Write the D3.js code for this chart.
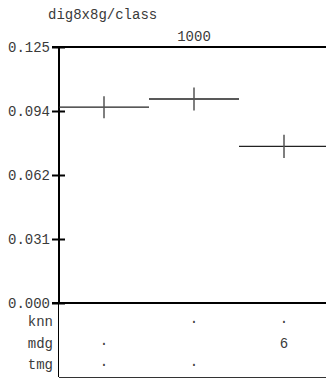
<!DOCTYPE html>
<html><head><meta charset="utf-8">
<script src="https://cdn.jsdelivr.net/npm/d3@7"></script>
<style>
html,body{margin:0;padding:0;background:#fff;}
svg{display:block;font-family:"Courier New","Liberation Mono",monospace;}
</style></head>
<body>
<svg id="chart" width="326" height="379"></svg>
<script>
const title = "dig8x8g/class";
const groupLabel = "1000";
const columns = ["c1", "c2", "c3"];
const means = [0.0956, 0.0996, 0.0765];
const errors = [0.0054, 0.0056, 0.0057];
const yTicks = [0, 0.03125, 0.0625, 0.09375, 0.125];
const yTickLabels = ["0.000", "0.031", "0.062", "0.094", "0.125"];
const rowLabels = ["knn", "mdg", "tmg"];
const knnCells = ["", "·", "·"];
const mdgCells = ["·", "", "6"];
const tmgCells = ["·", "·", ""];

(function () {
const svg = d3.select("#chart");
const textColor = "#3a3a3a";
const pLeft = 59, pRight = 329, pTop = 47, pBottom = 303, frameBottom = 377;
const x = d3.scaleBand().domain(columns).range([pLeft, pRight]).padding(0);
const y = d3.scaleLinear().domain([0, 0.125]).range([pBottom, pTop]);

// title
svg.append("text").attr("x", 48).attr("y", 19).attr("font-size", 14).attr("fill", textColor).text(title);
svg.append("text").attr("x", (pLeft + pRight) / 2).attr("y", 41).attr("text-anchor", "middle")
  .attr("font-size", 14).attr("fill", textColor).text(groupLabel);

// axis
const axis = d3.axisLeft(y).tickValues(yTicks)
  .tickFormat((d, i) => yTickLabels[i]).tickSizeInner(7).tickSizeOuter(0).tickPadding(2);
const gAxis = svg.append("g").attr("transform", `translate(${pLeft},0)`).call(axis);
gAxis.select(".domain").remove();
gAxis.selectAll(".tick line").attr("x2", -7).attr("x1", 6).attr("stroke", "#000").attr("stroke-width", 2);
gAxis.selectAll(".tick text").attr("font-size", 14).attr("fill", textColor)
  .attr("font-family", '"Courier New","Liberation Mono",monospace');

// frame
svg.append("line").attr("x1", pLeft).attr("x2", pLeft).attr("y1", pTop - 1).attr("y2", pBottom + 1)
  .attr("stroke", "#000").attr("stroke-width", 2);
svg.append("line").attr("x1", pLeft - 0.5).attr("x2", pLeft - 0.5).attr("y1", pBottom).attr("y2", frameBottom)
  .attr("stroke", "#000").attr("stroke-width", 1);
svg.append("line").attr("x1", pLeft - 7).attr("x2", 326).attr("y1", pTop).attr("y2", pTop)
  .attr("stroke", "#000").attr("stroke-width", 2);
svg.append("line").attr("x1", pLeft - 7).attr("x2", 326).attr("y1", pBottom).attr("y2", pBottom)
  .attr("stroke", "#000").attr("stroke-width", 2);
svg.append("line").attr("x1", pLeft).attr("x2", 326).attr("y1", frameBottom + 0.5).attr("y2", frameBottom + 0.5)
  .attr("stroke", "#333").attr("stroke-width", 1);

// data
const g = svg.append("g");
columns.forEach((c, i) => {
  g.append("line").attr("x1", x(c)).attr("x2", x(c) + x.bandwidth())
    .attr("y1", y(means[i])).attr("y2", y(means[i])).attr("stroke", "#222").attr("stroke-width", 1.3);
  const cx = x(c) + x.bandwidth() / 2;
  g.append("line").attr("x1", cx).attr("x2", cx)
    .attr("y1", y(means[i] + errors[i])).attr("y2", y(means[i] - errors[i]))
    .attr("stroke", "#555").attr("stroke-width", 1.5);
});

// table
const rowY = [326, 348, 369];
const cells = [knnCells, mdgCells, tmgCells];
rowLabels.forEach((r, j) => {
  svg.append("text").attr("x", 53).attr("y", rowY[j]).attr("text-anchor", "end")
    .attr("font-size", 14).attr("fill", textColor).text(r);
  columns.forEach((c, i) => {
    svg.append("text").attr("x", x(c) + x.bandwidth() / 2).attr("y", rowY[j]).attr("text-anchor", "middle")
      .attr("font-size", 14).attr("fill", textColor).text(cells[j][i]);
  });
});
})();
</script>
</body></html>
